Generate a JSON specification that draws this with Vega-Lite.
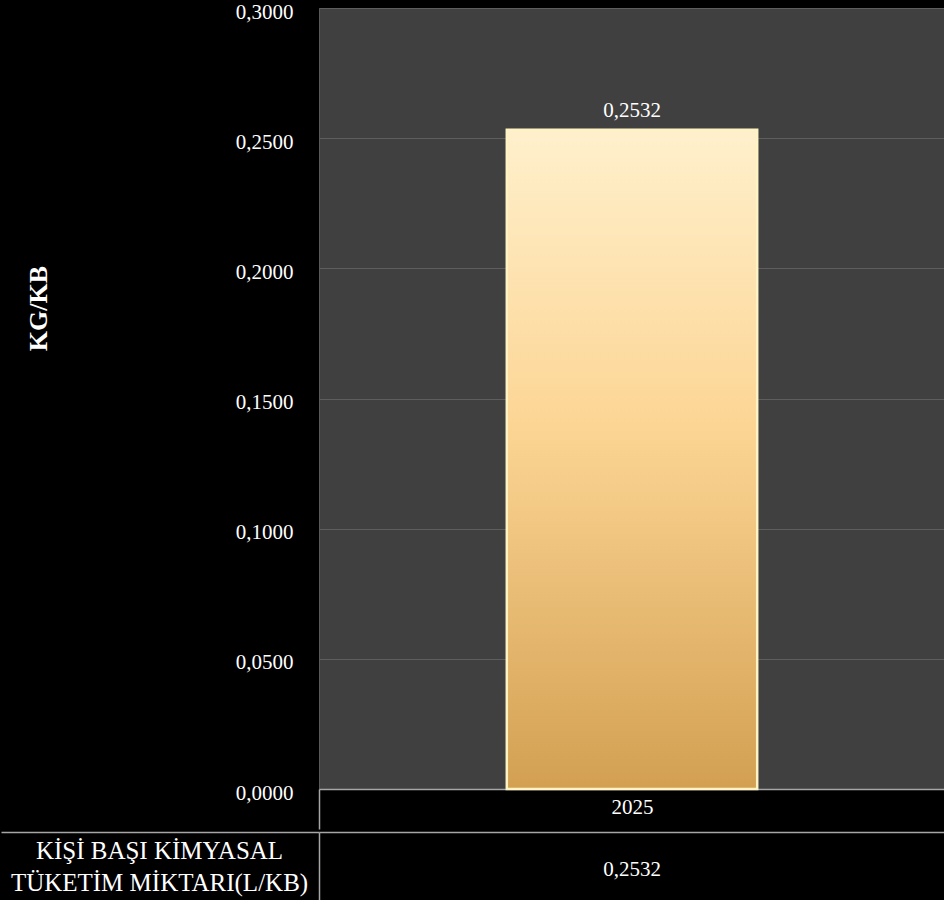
{
  "$schema": "https://vega.github.io/schema/vega-lite/v6.json",
  "background": "#000000",
  "padding": 0,
  "spacing": 0,
  "config": {"font": "Liberation Serif", "view": {"stroke": null}, "concat": {"spacing": 0}},
  "data": {"values": [{"year": "2025", "value": 0.2532, "label": "0,2532", "row": "KİŞİ BAŞI KİMYASAL\nTÜKETİM MİKTARI(L/KB)"}]},
  "vconcat": [
    {
      "width": 626,
      "height": 781,
      "view": {"fill": "#404040", "stroke": "#595959"},
      "encoding": {
        "x": {
          "field": "year", "type": "nominal",
          "scale": {"paddingInner": 0, "paddingOuter": 0},
          "axis": {
            "title": null, "labelAngle": 0,
            "tickOffset": -313, "labelOffset": 313, "labelPadding": -33, "labelFontSize": 21, "labelColor": "#ffffff",
            "ticks": true, "tickSize": 40, "tickColor": "#a6a6a6", "tickWidth": 1.5,
            "domainColor": "#a6a6a6", "domainWidth": 1.5,
            "minExtent": 40, "maxExtent": 40, "grid": false
          }
        }
      },
      "layer": [
        {
          "mark": {
            "type": "bar", "width": {"band": 0.4},
            "fill": {
              "gradient": "linear", "x1": 0, "y1": 0, "x2": 0, "y2": 1,
              "stops": [
                {"offset": 0, "color": "#fff0cc"},
                {"offset": 0.45, "color": "#fcd594"},
                {"offset": 1, "color": "#d3a052"}
              ]
            },
            "stroke": "#fff3c4", "strokeWidth": 2.5
          },
          "encoding": {
            "y": {
              "field": "value", "type": "quantitative",
              "scale": {"domain": [0, 0.3]},
              "axis": {
                "title": "KG/KB", "titleFontSize": 26, "titleFontWeight": "bold", "titleColor": "#ffffff",
                "titleX": -268, "titleY": 300, "titleAngle": -90,
                "values": [0, 0.05, 0.1, 0.15, 0.2, 0.25, 0.3],
                "labelExpr": "replace(format(datum.value, '.4f'), '.', ',')",
                "labelFontSize": 21, "labelColor": "#ffffff", "labelPadding": 26, "labelOffset": 4,
                "domain": false, "ticks": false,
                "grid": true, "gridColor": "#5e5e5e", "gridWidth": 1.2
              }
            }
          }
        },
        {
          "mark": {"type": "text", "dy": -19, "fontSize": 21, "color": "#ffffff"},
          "encoding": {
            "y": {"field": "value", "type": "quantitative"},
            "text": {"field": "label"}
          }
        }
      ]
    },
    {
      "width": 626,
      "height": 71,
      "mark": {"type": "text", "fontSize": 21, "color": "#ffffff", "baseline": "middle", "dy": 2},
      "encoding": {
        "x": {
          "field": "year", "type": "nominal",
          "scale": {"paddingInner": 0, "paddingOuter": 0},
          "axis": {"orient": "top", "title": null, "labels": false, "ticks": false, "domainColor": "#a6a6a6", "domainWidth": 1.5}
        },
        "y": {
          "field": "row", "type": "nominal",
          "scale": {"paddingInner": 0, "paddingOuter": 0},
          "axis": {
            "title": null,
            "labelExpr": "split(datum.label, '\\n')",
            "labelFontSize": 25, "labelColor": "#ffffff", "labelLimit": 500,
            "labelAlign": "center", "labelBaseline": "middle", "labelLineHeight": 32,
            "tickOffset": -35.5, "labelOffset": 18, "labelPadding": -158,
            "ticks": true, "tickSize": 318, "tickColor": "#a6a6a6", "tickWidth": 1.5,
            "domainColor": "#a6a6a6", "domainWidth": 1.5
          }
        },
        "text": {"field": "label"}
      }
    }
  ]
}
